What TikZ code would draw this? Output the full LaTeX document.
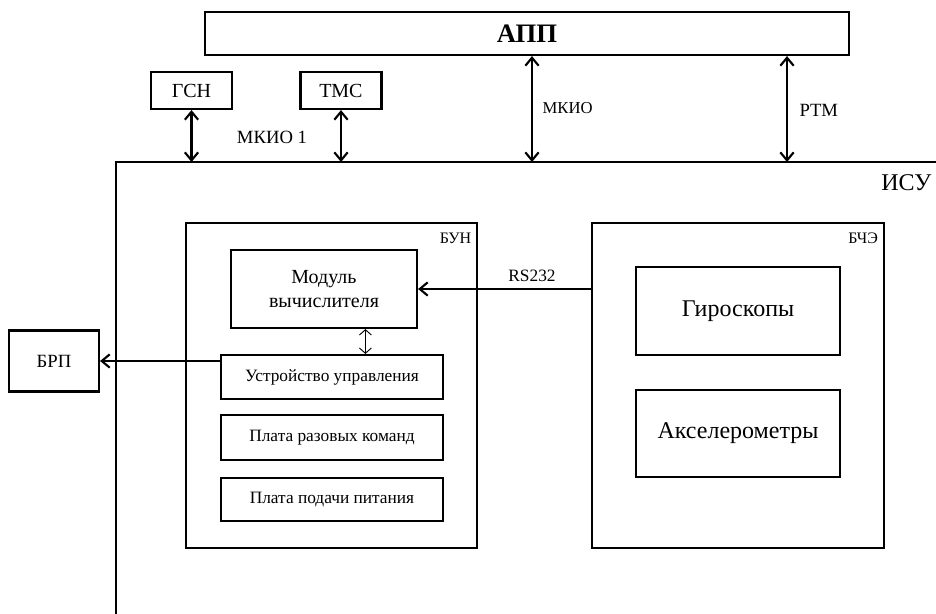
\documentclass[tikz,border=0pt]{standalone}
\usepackage{fontspec}
\setmainfont{Liberation Serif}
\usetikzlibrary{arrows.meta,positioning,calc}
\definecolor{bordercolor}{RGB}{0,0,0}
\tikzset{
    block/.style={
        rectangle,
        draw=bordercolor,
        line width=1.6pt,
        inner sep=0pt,
        align=center
    },
    bigblock/.style={block, font=\fontsize{20}{22}\selectfont\bfseries},
    extblock/.style={block, minimum width=60.75pt, minimum height=27.75pt, font=\fontsize{15}{17}\selectfont},
    unitblock/.style={block, minimum width=218.5pt, minimum height=243.75pt},
    cardblock/.style={block, minimum width=166.5pt, font=\fontsize{13}{15}\selectfont},
    sensorblock/.style={block, minimum width=153pt, minimum height=66pt, font=\fontsize{18}{20}\selectfont},
    lbl/.style={inner sep=1pt, font=\fontsize{14}{16}\selectfont},
    arrow/.style={-{Straight Barb[length=6pt,width=10pt]}, line width=1.6pt, color=bordercolor},
    dblarrow/.style={arrow, {Straight Barb[length=6pt,width=10pt]}-{Straight Barb[length=6pt,width=10pt]}},
    thinarrow/.style={{Straight Barb[length=4pt,width=9pt]}-{Straight Barb[length=4pt,width=9pt]}, line width=0.7pt}
}

\begin{document}
\begin{tikzpicture}[x=0.75pt,y=-0.75pt]
    \useasboundingbox (0,0) rectangle (936,614);

    % External systems
    \node[bigblock, minimum width=483pt, minimum height=32.25pt] (app) at (527,33.5) {АПП};
    \node[extblock] (gsn) at (191.5,90.5) {ГСН};
    \node[extblock] (tms) at (341,90.5) {ТМС};

    % ISU frame (open on the right and at the bottom)
    \coordinate (isu) at (116,162);
    \coordinate (isuR) at (936,162);
    \coordinate (isuB) at (116,614);
    \draw[line width=1.6pt] (isuB) -- (isu) -- (isuR);
    \node[lbl, anchor=east, font=\fontsize{18}{20}\selectfont] (isulabel) at (933,183) {ИСУ};

    % Links to the outer systems
    \draw[dblarrow] (gsn.south) -- (gsn.south |- isu);
    \draw[dblarrow] (tms.south) -- (tms.south |- isu);
    \coordinate (mkio) at (532,162);
    \coordinate (rtm) at (787,162);
    \draw[dblarrow] (mkio |- app.south) -- (mkio);
    \draw[dblarrow] (rtm |- app.south) -- (rtm);
    \node[lbl] (mkio1label) at (272,137) {МКИО 1};
    \node[lbl, anchor=west, font=\fontsize{12.5}{14}\selectfont] (mkiolabel) at (541,108) {МКИО};
    \node[lbl, anchor=west] (rtmlabel) at (798,110) {РТМ};

    % BUN
    \node[unitblock] (bun) at (331.5,385.5) {};
    \node[lbl, anchor=north east, font=\fontsize{12}{14}\selectfont] (bunlabel) at ([xshift=-4pt,yshift=-7pt]bun.north east) {БУН};
    \node[block, minimum width=139.5pt, minimum height=58.5pt, font=\fontsize{15}{18}\selectfont] (calc) at (324,289) {Модуль\\вычислителя};
    \node[cardblock, minimum height=33pt] (ctrl) at (332,377) {Устройство управления};
    \node[cardblock, minimum height=33.75pt] (cmd) at (332,437.5) {Плата разовых команд};
    \node[cardblock, minimum height=32.25pt] (pwr) at (332,499.5) {Плата подачи питания};
    \coordinate (cc) at ($(calc.south east)!0.28!(calc.south west)$);
    \draw[thinarrow] (cc) -- (cc |- ctrl.north);

    % BRP
    \node[block, minimum width=67.5pt, minimum height=45.75pt, font=\fontsize{14}{16}\selectfont] (brp) at (54,361) {БРП};
    \draw[arrow] (ctrl.west |- brp.east) -- (brp.east);

    % BChE
    \node[unitblock] (bche) at (738,385.5) {};
    \node[lbl, anchor=north east, font=\fontsize{12}{14}\selectfont] (bchelabel) at ([xshift=-4pt,yshift=-7pt]bche.north east) {БЧЭ};
    \node[sensorblock] (gyro) at (738,311) {Гироскопы};
    \node[sensorblock, minimum height=65.25pt] (accel) at (738,433.5) {Акселерометры};

    % RS232
    \draw[arrow] (bche.west |- calc.east) -- (calc.east);
    \node[lbl, font=\fontsize{13}{15}\selectfont] (rslabel) at (532,276) {RS232};
\end{tikzpicture}
\end{document}
